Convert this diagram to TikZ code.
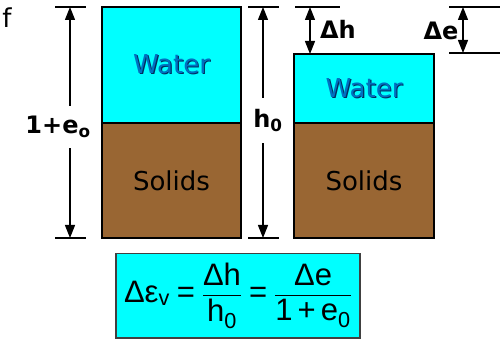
\documentclass[tikz,border=0pt]{standalone}
\usepackage{amsmath}
\usepackage{fontspec}
\setmainfont{Liberation Sans}
\newfontfamily\verdana{DejaVu Sans}
\usetikzlibrary{arrows.meta,positioning,calc}
\definecolor{phaseCyan}{RGB}{0,255,255}
\definecolor{phaseBrown}{RGB}{153,102,51}
\definecolor{waterBlue}{RGB}{0,112,192}
\definecolor{waterShade}{RGB}{0,45,95}
\definecolor{eqBorder}{RGB}{64,64,64}
\newcommand{\shadetext}[1]{{\color{waterShade}\rlap{\kern1.2pt\raisebox{-1.2pt}{#1}}}{\color{waterBlue}#1}}
\newcommand{\eqsign}{\mathrel{\text{=}}}

\begin{document}
\begin{tikzpicture}[x=1pt,y=-1pt,
  phase/.style={draw=black,line width=1.5pt,inner sep=0pt,outer sep=0pt,
    font=\verdana\fontsize{26}{30}\selectfont},
  dim/.style={line width=1.2pt,-{Triangle[length=13pt,width=10pt]}},
  dimboth/.style={line width=1.2pt,{Triangle[length=13pt,width=10pt]}-{Triangle[length=13pt,width=10pt]}},
  tickline/.style={line width=1.2pt},
  dimlabel/.style={font=\verdana\bfseries\fontsize{24}{28}\selectfont,inner sep=0pt}]
\useasboundingbox (0,0) rectangle (501,339);

% cut-off text at the top left
\node[font=\verdana\fontsize{26}{30}\selectfont,anchor=base,inner sep=0pt] (fText) at (7,28) {f};

% initial state
\node[phase,fill=phaseCyan,anchor=north west,minimum width=139pt,minimum height=116pt] (waterL) at (102,7) {\shadetext{Water}};
\node[phase,fill=phaseBrown,minimum width=139pt,minimum height=115pt,below=0pt of waterL] (solidsL) {Solids};

% compressed state
\node[phase,fill=phaseBrown,anchor=north west,minimum width=140pt,minimum height=115pt] (solidsR) at (294,123) {Solids};
\node[phase,fill=phaseCyan,minimum width=140pt,minimum height=69pt,above=0pt of solidsR] (waterR) {\shadetext{Water}};

% 1+e_o
\coordinate (eTop) at (70,7);
\coordinate (eBot) at (70,238);
\draw[tickline] ([xshift=-15pt]eTop) -- ([xshift=16pt]eTop);
\draw[tickline] ([xshift=-15pt]eBot) -- ([xshift=16pt]eBot);
\node[dimlabel,minimum height=42pt] (eLbl) at (58,127) {$\text{1+e}_{\text{o}}$};
\draw[dim] (eLbl.north -| eTop) -- (eTop);
\draw[dim] (eLbl.south -| eBot) -- (eBot);

% h_0
\coordinate (hTop) at (263,7);
\coordinate (hBot) at (263,238);
\draw[tickline] ([xshift=-15pt]hTop) -- ([xshift=16pt]hTop);
\draw[tickline] ([xshift=-15pt]hBot) -- ([xshift=16pt]hBot);
\node[dimlabel,minimum height=45pt] (hLbl) at (268,120.5) {$\text{h}_{\text{0}}$};
\draw[dim] (hLbl.north -| hTop) -- (hTop);
\draw[dim] (hLbl.south -| hBot) -- (hBot);

% Delta h
\coordinate (dhTop) at (310,7);
\coordinate (dhBot) at (waterR.north -| dhTop);
\draw[tickline] ([xshift=-15pt]dhTop) -- ([xshift=30pt]dhTop);
\draw[dimboth] (dhTop) -- (dhBot);
\node[dimlabel] (dhLbl) at (338,29) {Δh};

% Delta e
\coordinate (deTop) at (463,7);
\coordinate (deBot) at (463,53);
\draw[tickline] ([xshift=-14pt]deTop) -- ([xshift=37pt]deTop);
\draw[tickline] ([xshift=-14pt]deBot) -- ([xshift=37pt]deBot);
\draw[dimboth] (deTop) -- (deBot);
\node[dimlabel] (deLbl) at (441,31) {Δe};

% volumetric strain
\node[draw=eqBorder,line width=1.5pt,fill=phaseCyan,anchor=north,minimum width=244pt,minimum height=84pt,
  inner sep=0pt,font=\fontsize{31}{35}\selectfont] (eqn) at (238,253)
  {$\displaystyle \text{Δε}_{\text{v}}\eqsign\frac{\text{Δh}}{\text{h}_{\text{0}}}\eqsign\frac{\text{Δe}}{\text{1\,+\,e}_{\text{0}}}$};
\end{tikzpicture}
\end{document}
